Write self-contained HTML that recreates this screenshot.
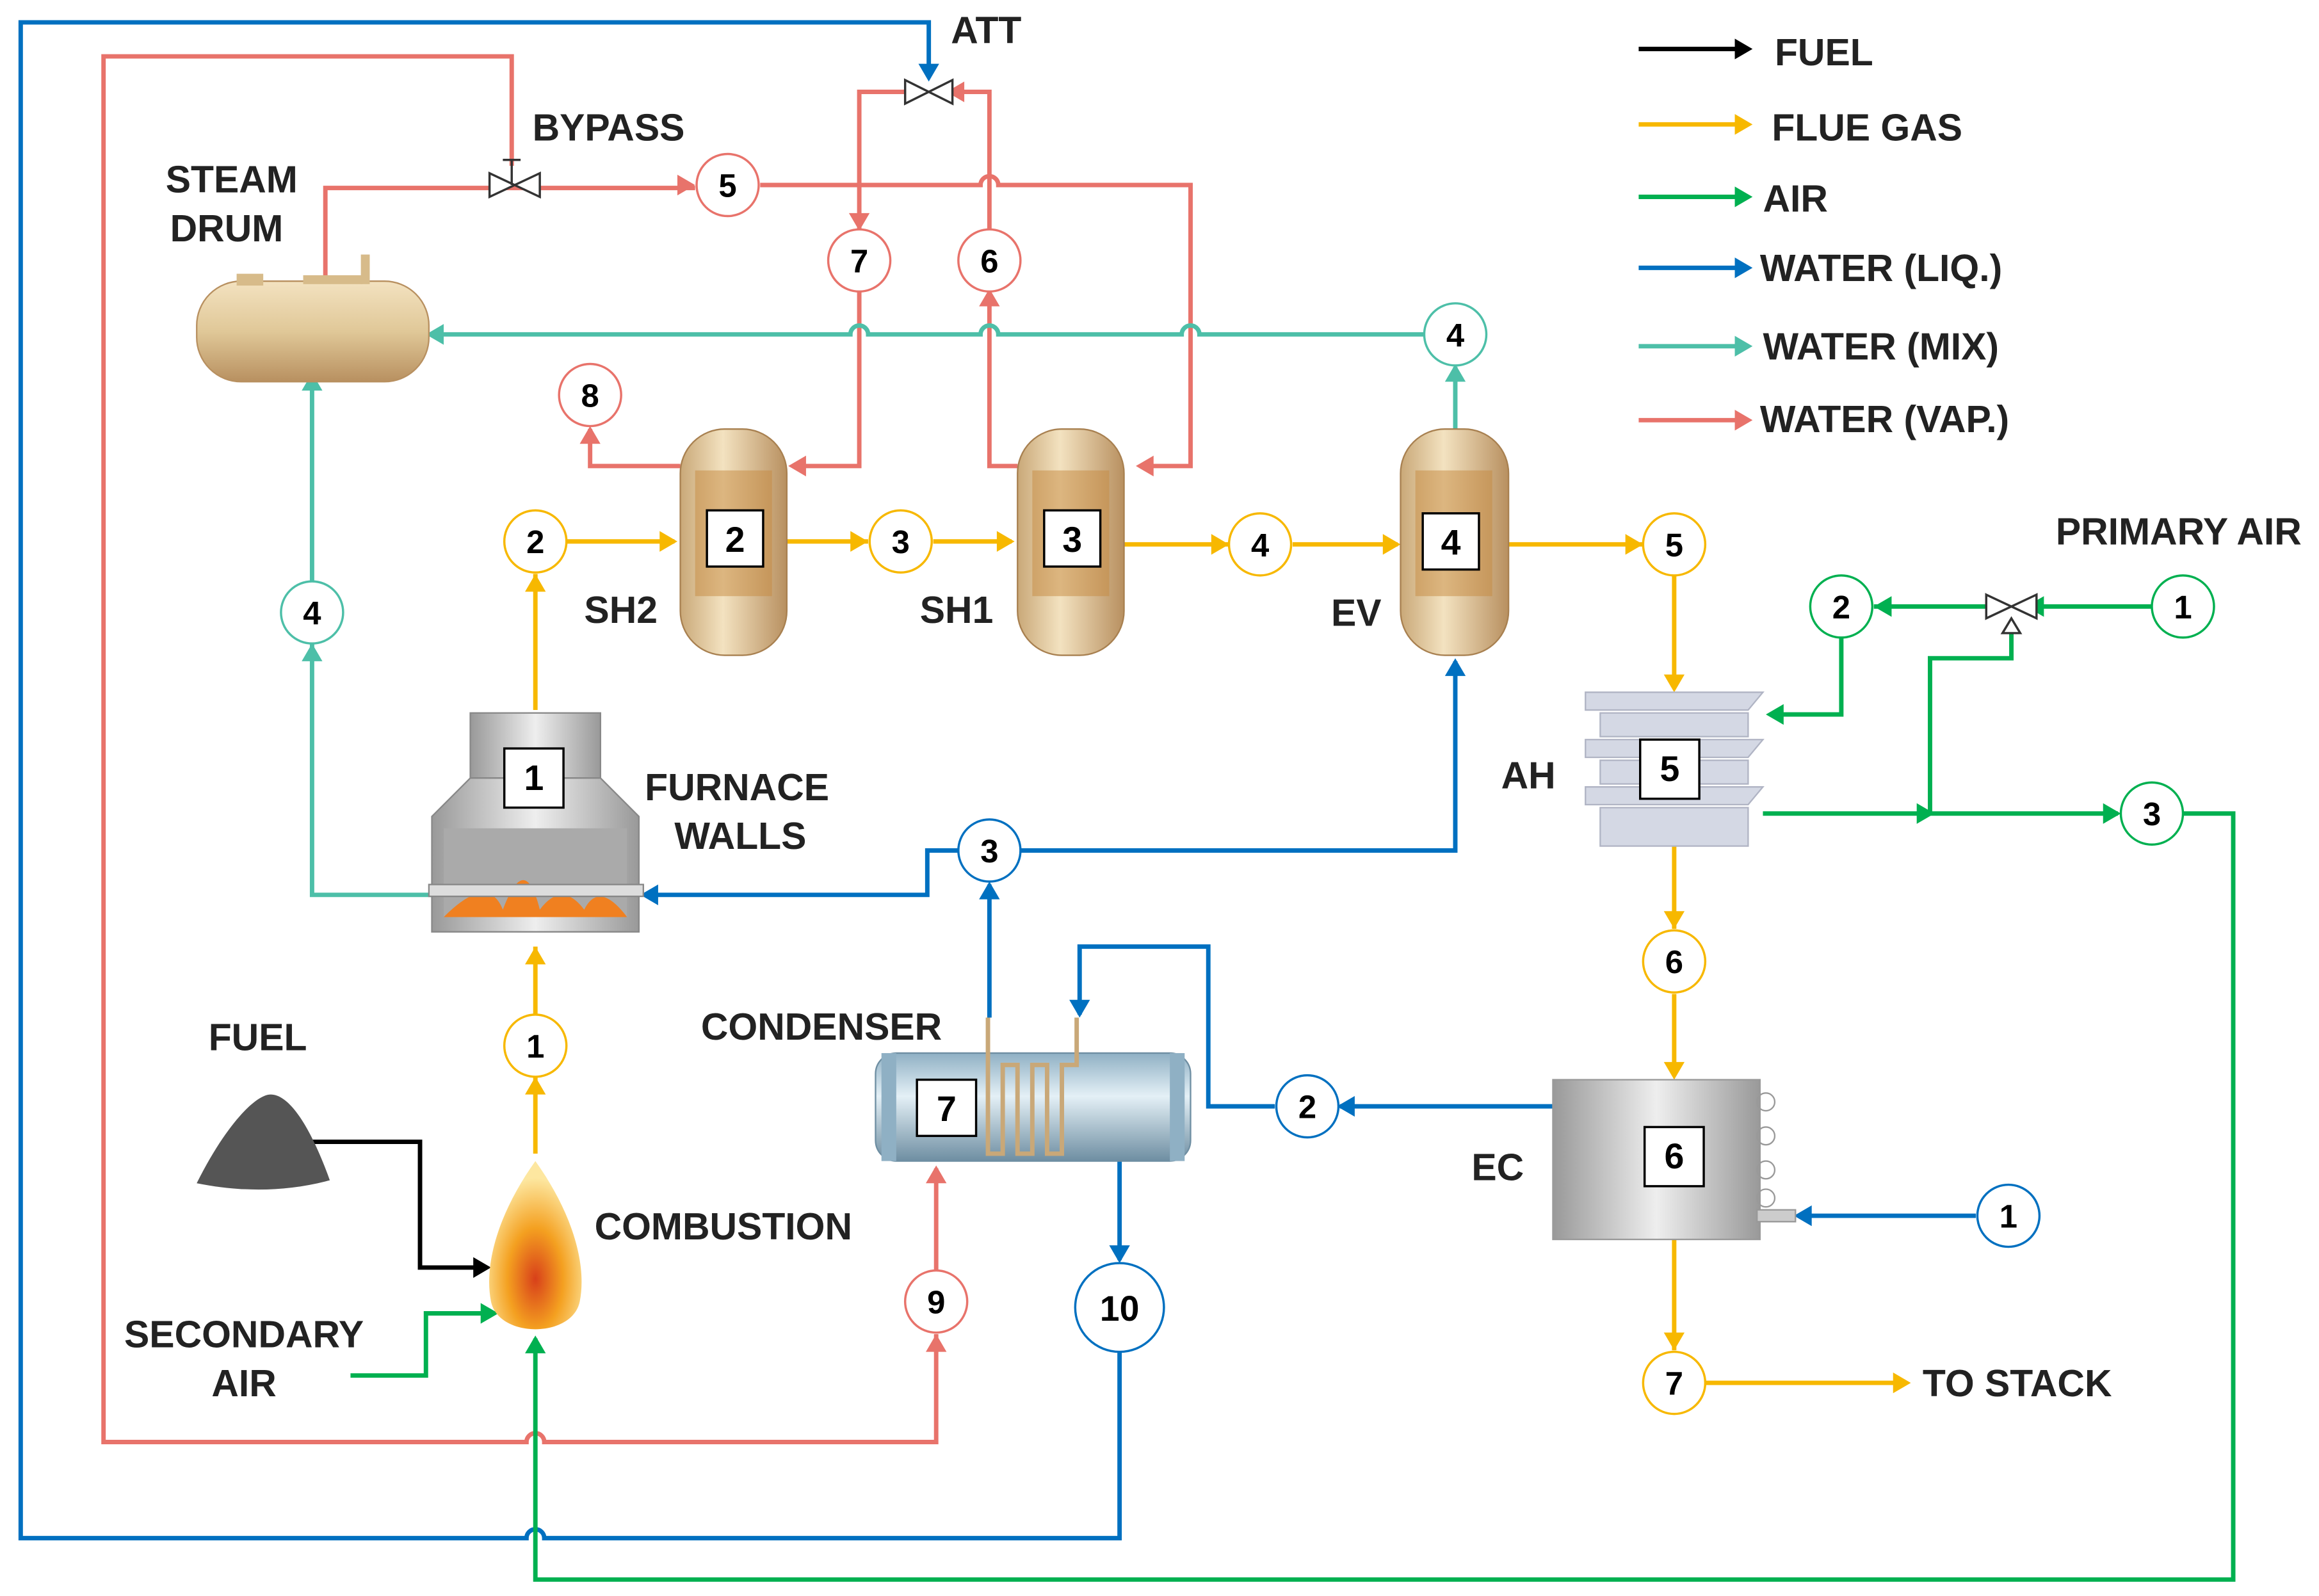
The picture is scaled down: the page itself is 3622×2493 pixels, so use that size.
<!DOCTYPE html>
<html><head><meta charset="utf-8"><style>html,body{margin:0;padding:0;background:#fff}svg{display:block}text{font-family:"Liberation Sans",sans-serif;font-weight:bold}</style></head><body>
<svg width="3622" height="2493" viewBox="0 0 1568 1079" xmlns="http://www.w3.org/2000/svg">
<defs>
<linearGradient id="tan" x1="0" x2="1"><stop offset="0" stop-color="#c9a878"/><stop offset=".4" stop-color="#f3e2c0"/><stop offset="1" stop-color="#b89060"/></linearGradient>
<linearGradient id="tanv" x1="0" y1="0" x2="0" y2="1"><stop offset="0" stop-color="#f3e2c0"/><stop offset=".5" stop-color="#e0c898"/><stop offset="1" stop-color="#b89060"/></linearGradient>
<linearGradient id="gr" x1="0" x2="1"><stop offset="0" stop-color="#999"/><stop offset=".5" stop-color="#eee"/><stop offset="1" stop-color="#999"/></linearGradient>
<linearGradient id="cond" x1="0" y1="0" x2="0" y2="1"><stop offset="0" stop-color="#8fb0c4"/><stop offset=".4" stop-color="#e4f0f6"/><stop offset="1" stop-color="#6e8ea2"/></linearGradient>
<radialGradient id="fl" cx=".5" cy=".7" r=".6"><stop offset="0" stop-color="#d8401a"/><stop offset=".5" stop-color="#f4a020"/><stop offset="1" stop-color="#fde7a0"/></radialGradient>
</defs>
<g fill="none" stroke-width="3">
<path d="M757,914V1040H368a6,6 0 0 0-12,0H14V15H628V50" stroke="#0070c0"/>
<path d="M346,112V38H70V975H356a6,6 0 0 1 12,0H633V902" stroke="#e8736b"/>
<path d="M633,860V790" stroke="#e8736b"/>
<path d="M220,190V127H470M514,125H663a6,6 0 0 1 12,0H805V315H772" stroke="#e8736b"/>
<path d="M616,62H581V156M581,197V315H537" stroke="#e8736b"/>
<path d="M688,315H669V197M669,156V62H650" stroke="#e8736b"/>
<path d="M460,315H399V290" stroke="#e8736b"/>
<path d="M963,226H811a6,6 0 0 0-12,0H675a6,6 0 0 0-12,0H587a6,6 0 0 0-12,0H292" stroke="#4dbfa8"/>
<path d="M984,290V248" stroke="#4dbfa8"/>
<path d="M292,605H211V435M211,393V254" stroke="#4dbfa8"/>
<g stroke="#f7b800"><path d="M362,780V728M362,686V640M362,480V388M383,366H456M532,366H587M631,366H684M760,368H831M874,368H945M1020,368H1111M1132,389V465M1132,572V628M1132,672V727M1132,838V913M1153,935H1288"/></g>
<g stroke="#0070c0"><path d="M669,688V598M690,575H984V447M648,575H627V605H437M1336,822H1217M1050,748H906M862,748H817V640H730V686M757,785V852"/></g>
<g stroke="#00b050"><path d="M1455,410H1372M1348,410H1267M1245,431V483H1197M1360,420V445H1305V550M1192,550H1432M1476,550H1510V1068H362V905M237,930H288V888H333"/></g>
<path d="M210,772H284V857H328" stroke="#000"/>
<path d="M1108,33H1180" stroke="#000"/><path d="M1108,84H1180" stroke="#f7b800"/><path d="M1108,133H1180" stroke="#00b050"/><path d="M1108,181H1180" stroke="#0070c0"/><path d="M1108,234H1180" stroke="#4dbfa8"/><path d="M1108,284H1180" stroke="#e8736b"/>
</g>
<g>
<g fill="#000"><path d="M1185,33l-12-7v14z"/><path d="M332,857l-12-7v14z"/></g>
<g fill="#f7b800"><path d="M1185,84l-12-7v14z"/><path d="M362,640l-7,12h14z"/><path d="M362,728l-7,12h14z"/><path d="M362,388l-7,12h14z"/><path d="M458,366l-12-7v14z"/><path d="M587,366l-12-7v14z"/><path d="M686,366l-12-7v14z"/><path d="M831,368l-12-7v14z"/><path d="M947,368l-12-7v14z"/><path d="M1111,368l-12-7v14z"/><path d="M1132,468l-7-12h14z"/><path d="M1132,628l-7-12h14z"/><path d="M1132,730l-7-12h14z"/><path d="M1132,913l-7-12h14z"/><path d="M1292,935l-12-7v14z"/></g>
<g fill="#00b050"><path d="M1185,133l-12-7v14z"/><path d="M1370,410l12-7v14z"/><path d="M1267,410l12-7v14z"/><path d="M1194,483l12-7v14z"/><path d="M1308,550l-12-7v14z"/><path d="M1434,550l-12-7v14z"/><path d="M362,903l-7,12h14z"/><path d="M337,888l-12-7v14z"/></g>
<g fill="#0070c0"><path d="M1185,181l-12-7v14z"/><path d="M628,55l-7-12h14z"/><path d="M669,596l-7,12h14z"/><path d="M984,445l-7,12h14z"/><path d="M433,605l12-7v14z"/><path d="M1213,822l12-7v14z"/><path d="M904,748l12-7v14z"/><path d="M730,688l-7-12h14z"/><path d="M757,854l-7-12h14z"/></g>
<g fill="#4dbfa8"><path d="M1185,234l-12-7v14z"/><path d="M288,226l12-7v14z"/><path d="M984,246l-7,12h14z"/><path d="M211,252l-7,12h14z"/><path d="M211,435l-7,12h14z"/></g>
<g fill="#e8736b"><path d="M1185,284l-12-7v14z"/><path d="M470,125l-12-7v14z"/><path d="M768,315l12-7v14z"/><path d="M581,156l-7-12h14z"/><path d="M533,315l12-7v14z"/><path d="M669,195l-7,12h14z"/><path d="M399,288l-7,12h14z"/><path d="M640,62l12-7v14z"/><path d="M633,902l-7,12h14z"/><path d="M633,788l-7,12h14z"/></g>
</g>
<g stroke="#333" stroke-width="1.5" fill="#fff">
<path d="M331,117l34,16v-16l-34,16z"/><path d="M340,108h12M346,108v17"/>
<path d="M612,54l32,16v-16l-32,16z"/>
<path d="M1343,402l34,16v-16l-34,16z"/><path d="M1354,428l6,-10l6,10z"/>
</g>
<rect x="133" y="190" width="157" height="68" rx="30" fill="url(#tanv)" stroke="#b89060"/>
<rect x="160" y="185" width="18" height="8" fill="#d7bb8a"/><rect x="244" y="172" width="6" height="20" fill="#d7bb8a"/><rect x="205" y="186" width="40" height="6" fill="#d7bb8a"/>
<g stroke="#a88050" stroke-width="1">
<rect x="460" y="290" width="72" height="153" rx="30" fill="url(#tan)"/>
<rect x="688" y="290" width="72" height="153" rx="30" fill="url(#tan)"/>
<rect x="947" y="290" width="73" height="153" rx="30" fill="url(#tan)"/>
</g>
<g fill="#c58a40" opacity=".5"><rect x="470" y="318" width="52" height="85"/><rect x="698" y="318" width="52" height="85"/><rect x="957" y="318" width="52" height="85"/></g>
<rect x="318" y="482" width="88" height="44" fill="url(#gr)" stroke="#888"/>
<path d="M318,526L292,552V630H432V552L406,526z" fill="url(#gr)" stroke="#888"/>
<rect x="300" y="560" width="124" height="60" fill="#aaa"/>
<path d="M300,620q30,-30 40,-5q15,-40 25,0q15,-20 30,0q10,-20 29,5z" fill="#f08020"/>
<rect x="290" y="598" width="145" height="8" fill="#ddd" stroke="#888"/>
<path d="M362,785c-25,35 -35,70 -30,95c5,25 55,25 60,0c5,-25 -5,-60 -30,-95z" fill="url(#fl)"/>
<path d="M133,800c20,-40 40,-60 50,-60c15,0 30,30 40,58c-30,8 -60,8 -90,2z" fill="#555"/>
<rect x="592" y="712" width="213" height="73" rx="14" fill="url(#cond)" stroke="#6e8ea2"/>
<rect x="596" y="712" width="10" height="73" fill="#8fb0c4"/><rect x="791" y="712" width="10" height="73" fill="#8fb0c4"/>
<path d="M668,688V780h10V720h10v60h10V720h10v60h10V720h10v-32" fill="none" stroke="#c9a878" stroke-width="3"/>
<g fill="#d4d8e4" stroke="#b0b4c4">
<path d="M1072,468h120l-10,12h-110z"/><rect x="1082" y="482" width="100" height="16"/><path d="M1072,500h120l-10,12h-110z"/><rect x="1082" y="514" width="100" height="16"/><path d="M1072,532h120l-10,12h-110z"/><rect x="1082" y="546" width="100" height="26"/>
</g>
<rect x="1050" y="730" width="140" height="108" fill="url(#gr)" stroke="#999"/>
<rect x="1188" y="818" width="26" height="8" fill="#ccc" stroke="#999"/>
<g fill="none" stroke="#999"><circle cx="1194" cy="745" r="6"/><circle cx="1194" cy="768" r="6"/><circle cx="1194" cy="791" r="6"/><circle cx="1194" cy="810" r="6"/></g>
<g fill="#fff" stroke="#000" stroke-width="1.5">
<rect x="341" y="506" width="40" height="40"/><rect x="478" y="345" width="38" height="38"/><rect x="706" y="345" width="38" height="38"/><rect x="962" y="347" width="38" height="38"/><rect x="1109" y="500" width="40" height="40"/><rect x="1112" y="762" width="40" height="40"/><rect x="620" y="730" width="40" height="38"/>
</g>
<g font-size="24" text-anchor="middle">
<text x="361" y="534">1</text><text x="497" y="373">2</text><text x="725" y="373">3</text><text x="981" y="375">4</text><text x="1129" y="528">5</text><text x="1132" y="790">6</text><text x="640" y="758">7</text>
</g>
<g stroke-width="1.5" fill="#fff">
<g stroke="#e8736b"><circle cx="492" cy="125" r="21"/><circle cx="581" cy="176" r="21"/><circle cx="669" cy="176" r="21"/><circle cx="399" cy="267" r="21"/><circle cx="633" cy="880" r="21"/></g>
<g stroke="#4dbfa8"><circle cx="984" cy="226" r="21"/><circle cx="211" cy="414" r="21"/></g>
<g stroke="#f7b800"><circle cx="362" cy="366" r="21"/><circle cx="609" cy="366" r="21"/><circle cx="852" cy="368" r="21"/><circle cx="1132" cy="368" r="21"/><circle cx="1132" cy="650" r="21"/><circle cx="1132" cy="935" r="21"/><circle cx="362" cy="707" r="21"/></g>
<g stroke="#0070c0"><circle cx="669" cy="575" r="21"/><circle cx="884" cy="748" r="21"/><circle cx="1358" cy="822" r="21"/><circle cx="757" cy="884" r="30"/></g>
<g stroke="#00b050"><circle cx="1476" cy="410" r="21"/><circle cx="1245" cy="410" r="21"/><circle cx="1455" cy="550" r="21"/></g>
</g>
<g font-size="22" text-anchor="middle">
<text x="492" y="133">5</text><text x="581" y="184">7</text><text x="669" y="184">6</text><text x="399" y="275">8</text><text x="633" y="888">9</text>
<text x="984" y="234">4</text><text x="211" y="422">4</text>
<text x="362" y="374">2</text><text x="609" y="374">3</text><text x="852" y="376">4</text><text x="1132" y="376">5</text><text x="1132" y="658">6</text><text x="1132" y="943">7</text><text x="362" y="715">1</text>
<text x="669" y="583">3</text><text x="884" y="756">2</text><text x="1358" y="830">1</text><text x="757" y="893" font-size="24">10</text>
<text x="1476" y="418">1</text><text x="1245" y="418">2</text><text x="1455" y="558">3</text>
</g>
<g font-size="25.5" fill="#222">
<text x="643" y="29">ATT</text><text x="360" y="95">BYPASS</text><text x="112" y="130">STEAM</text><text x="115" y="163">DRUM</text>
<text x="395" y="421">SH2</text><text x="622" y="421">SH1</text><text x="900" y="423">EV</text>
<text x="436" y="541">FURNACE</text><text x="456" y="574">WALLS</text>
<text x="141" y="710">FUEL</text><text x="474" y="703">CONDENSER</text><text x="402" y="838">COMBUSTION</text>
<text x="84" y="911">SECONDARY</text><text x="143" y="944">AIR</text>
<text x="1015" y="533">AH</text><text x="995" y="798">EC</text><text x="1300" y="944">TO STACK</text>
<text x="1390" y="368">PRIMARY AIR</text>
<text x="1200" y="44">FUEL</text><text x="1198" y="95">FLUE GAS</text><text x="1192" y="143">AIR</text><text x="1190" y="190">WATER (LIQ.)</text><text x="1192" y="243">WATER (MIX)</text><text x="1190" y="292">WATER (VAP.)</text>
</g>
</svg>
</body></html>
